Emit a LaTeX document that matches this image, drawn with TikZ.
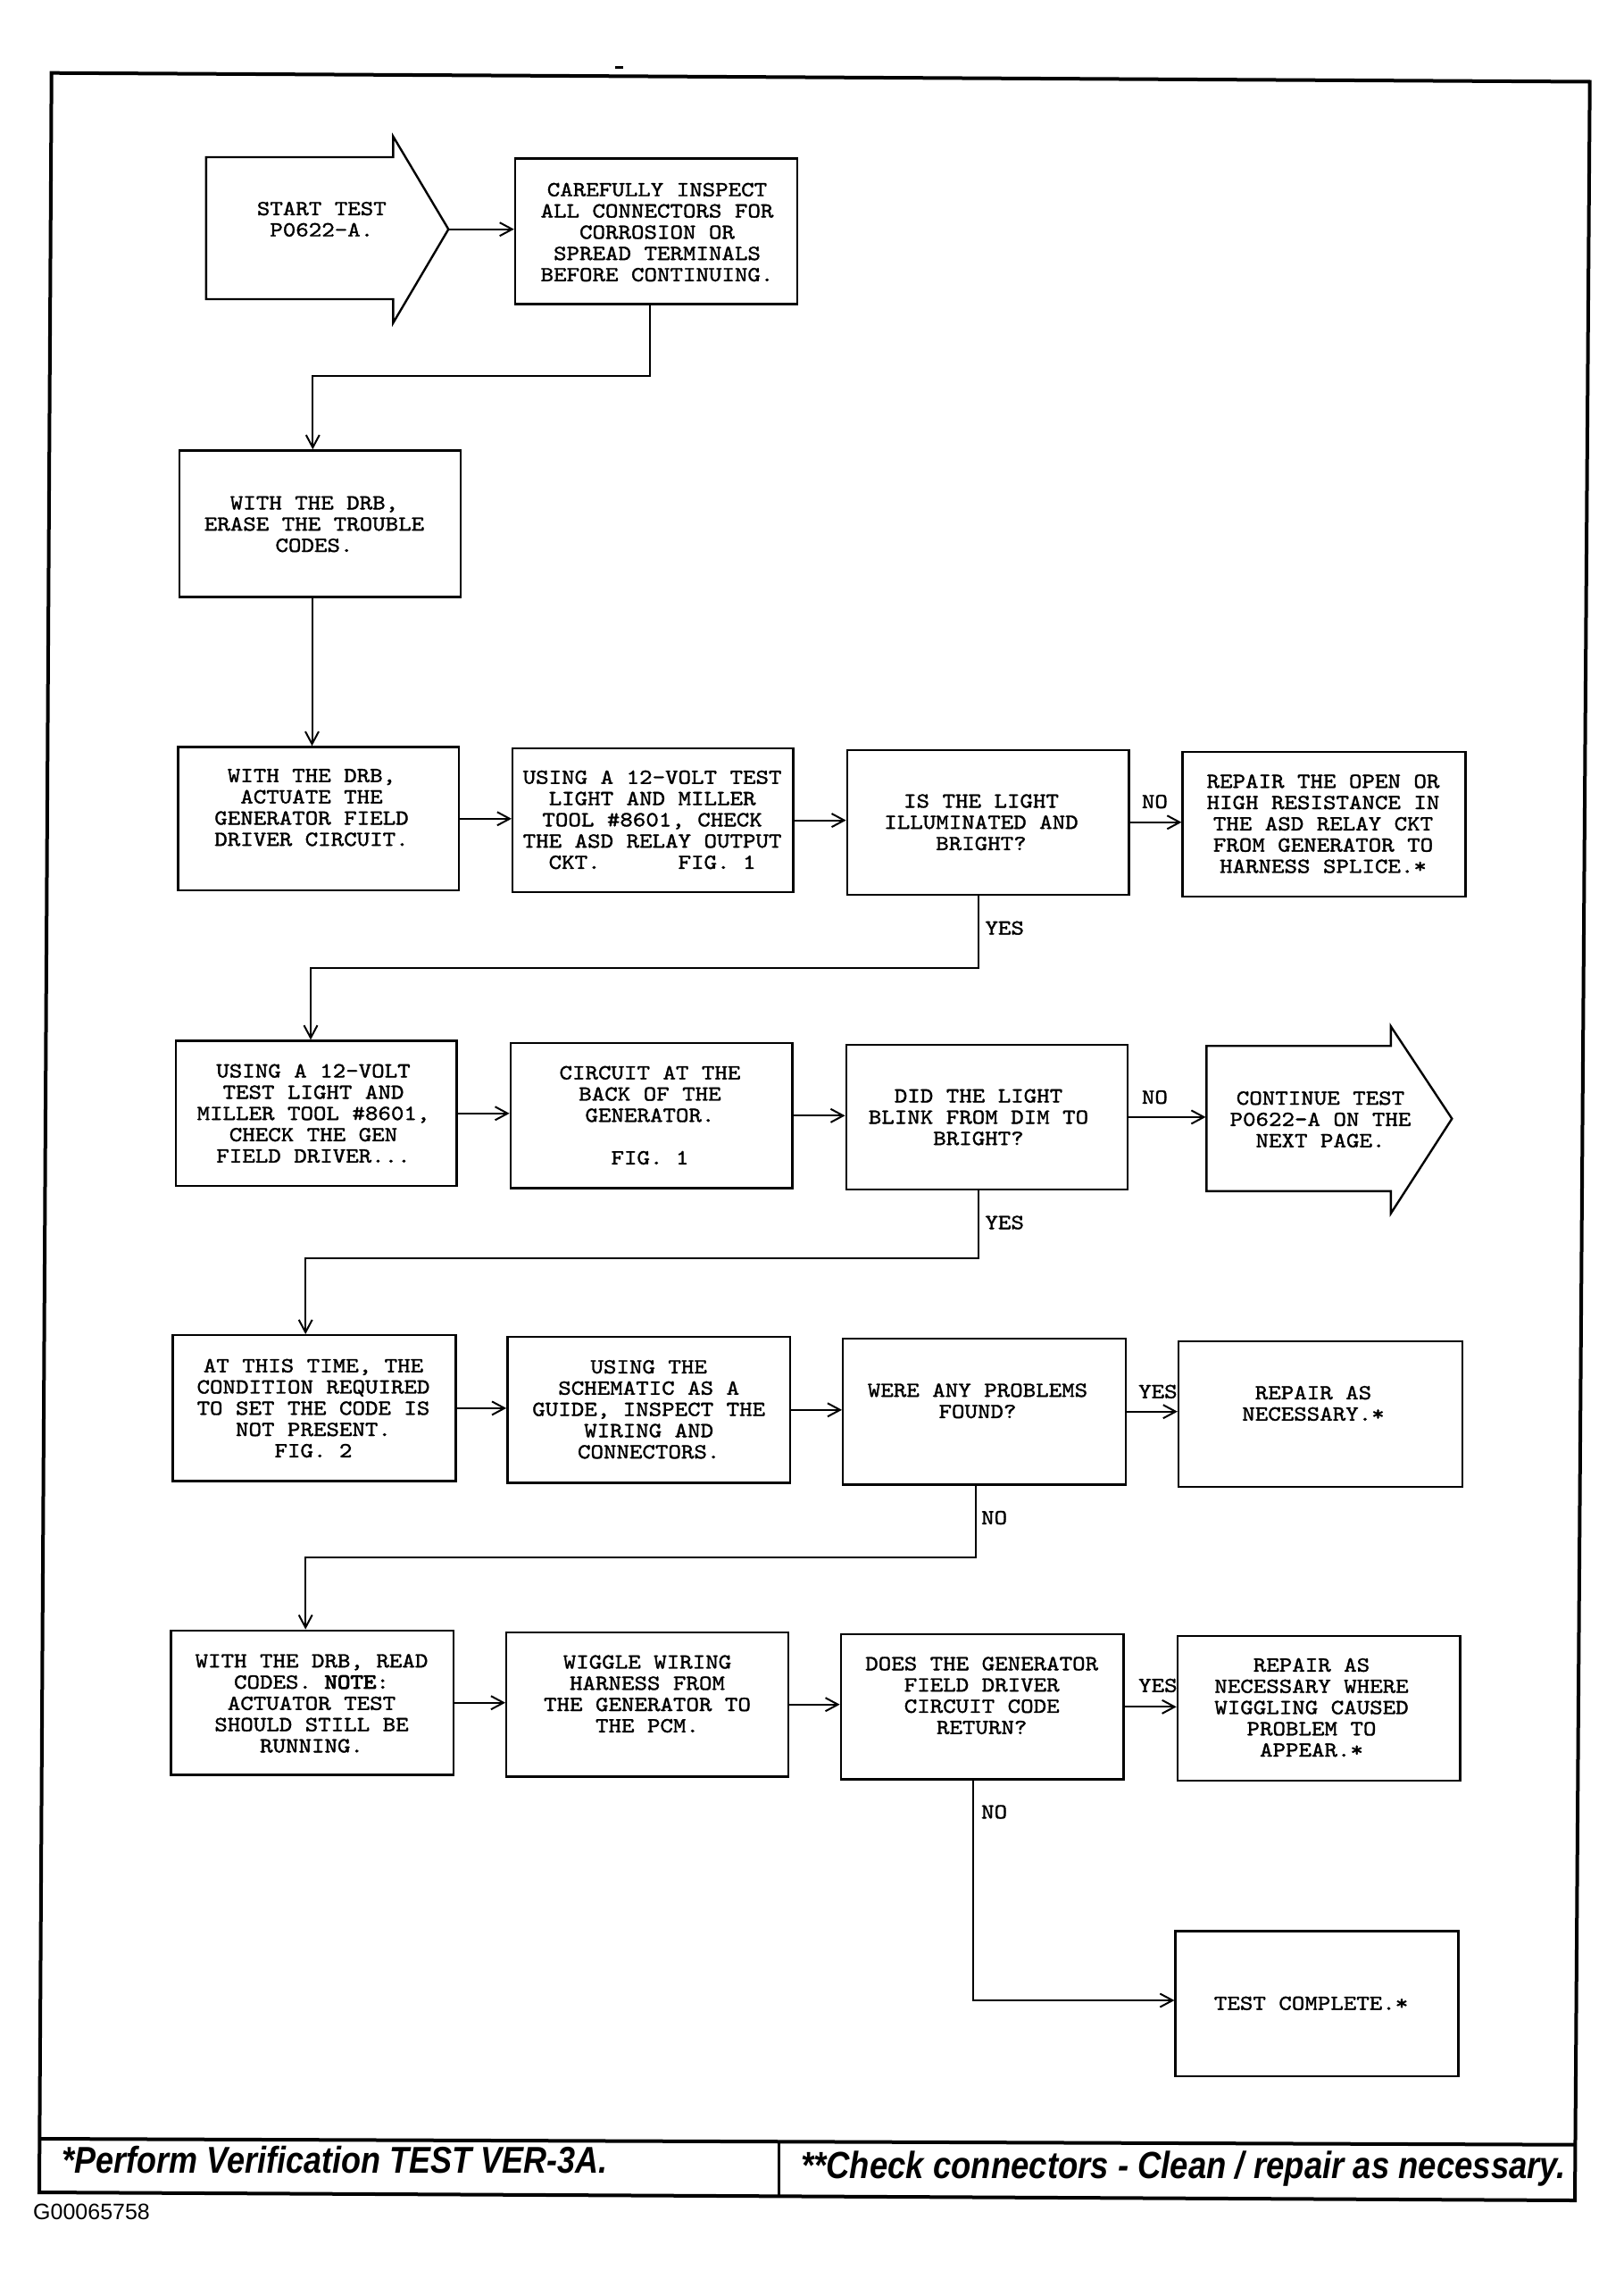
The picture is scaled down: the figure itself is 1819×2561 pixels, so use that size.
\documentclass[tikz,border=0pt]{standalone}
\usepackage{fontspec}
\usetikzlibrary{arrows.meta}
\newfontfamily\boxfont{lmmono10-regular.otf}[FakeStretch=1.15,FakeBold=1.4]
\newfontfamily\boxfontB{lmmono10-regular.otf}[FakeStretch=1.15,FakeBold=4]
\newfontfamily\footfont{Liberation Sans}
% box: name, cx, cy, width, height, text x, text y, text
\newcommand\mkbox[8]{%
  \node[box, minimum width=#4pt, minimum height=#5pt] (#1) at (#2,#3) {};
  \node[txt] (#1t) at (#6,#7) {#8};}
\begin{document}
\begin{tikzpicture}[x=1pt,y=-1pt,
  txt/.style={font=\boxfont\fontsize{24pt}{23.8pt}\selectfont\frenchspacing, align=center, inner sep=0pt},
  box/.style={draw, line width=2.4pt, inner sep=0pt},
  conn/.style={line width=2pt, -{Straight Barb[length=14pt,width=15pt,line width=2pt]}},
  shapeline/.style={line width=2.4pt, line join=miter},
  frame/.style={line width=4pt, line join=miter},
  lbl/.style={txt},
  foot/.style={anchor=base west, inner sep=0pt, font=\footfont\bfseries\itshape\fontsize{36pt}{40pt}\selectfont}
]
\useasboundingbox (0,0) rectangle (1819,2561);
\fill[white] (0,0) rectangle (1819,2561);

% outer frame and footer
\draw[frame] (57.7,81.7) -- (1780.7,91.5) -- (1764,2464) -- (44,2455) -- cycle;
\draw[frame] (44.3,2395) -- (1764.4,2401.7);
\draw[line width=2.5pt] (872.4,2397.5) -- (872.4,2459);
\draw[line width=3pt] (689,76) -- (698,76);

% start arrow
\draw[shapeline] (230.9,176) -- (440.3,176) -- (440.3,152.7) -- (502.3,256.7) -- (440.3,361.7) -- (440.3,335) -- (230.9,335) -- cycle;
\coordinate (starttip) at (502.3,256.7);
\node[txt] (starttext) at (360.3,245.5) {START TEST\\P0622-A.};

\mkbox{box1}{735}{259}{316}{163}{736}{260}
  {CAREFULLY INSPECT\\ALL CONNECTORS FOR\\CORROSION OR\\SPREAD TERMINALS\\BEFORE CONTINUING.}
\mkbox{erase}{358.5}{586.4}{315.5}{164}{352}{587}
  {WITH THE DRB,\\ERASE THE TROUBLE\\CODES.}

% row 3
\mkbox{r3a}{356.8}{916.8}{314.5}{160.7}{349}{904.3}
  {WITH THE DRB,\\ACTUATE THE\\GENERATOR FIELD\\DRIVER CIRCUIT.}
\mkbox{r3b}{731.4}{918.6}{314.4}{160.7}{730.6}{918}
  {USING A 12-VOLT TEST\\LIGHT AND MILLER\\TOOL \#8601, CHECK\\THE ASD RELAY OUTPUT\\CKT.~~~~~~FIG. 1}
\mkbox{r3c}{1106.6}{920.8}{315.5}{162}{1099}{920.8}
  {IS THE LIGHT\\ILLUMINATED AND\\BRIGHT?}
\mkbox{r3d}{1483}{923}{316.7}{162}{1482}{922.5}
  {REPAIR THE OPEN OR\\HIGH RESISTANCE IN\\THE ASD RELAY CKT\\FROM GENERATOR TO\\HARNESS SPLICE.*}

% row 4
\mkbox{r4a}{354.4}{1246.8}{314.4}{162.6}{351}{1246.8}
  {USING A 12-VOLT\\TEST LIGHT AND\\MILLER TOOL \#8601,\\CHECK THE GEN\\FIELD DRIVER...}
\mkbox{r4b}{729.6}{1249.3}{315.5}{162.2}{728}{1248.9}
  {CIRCUIT AT THE\\BACK OF THE\\GENERATOR.\\\mbox{}\\FIG. 1}
\mkbox{r4c}{1105.5}{1250.9}{315.5}{162.3}{1096}{1251}
  {DID THE LIGHT\\BLINK FROM DIM TO\\BRIGHT?}
\draw[shapeline] (1351.4,1171.2) -- (1557.9,1171.2) -- (1557.9,1149.4) -- (1626.3,1252.7) -- (1557.9,1358.7) -- (1557.9,1333.9) -- (1351.4,1333.9) -- cycle;
\coordinate (contl) at (1350.5,1252.7);
\node[txt] (conttext) at (1479,1253.5) {CONTINUE TEST\\P0622-A ON THE\\NEXT PAGE.};

% row 5
\mkbox{r5a}{352}{1576.9}{316.7}{163.4}{351}{1576.9}
  {AT THIS TIME, THE\\CONDITION REQUIRED\\TO SET THE CODE IS\\NOT PRESENT.\\FIG. 2}
\mkbox{r5b}{726.7}{1578.8}{316.7}{163.4}{726.7}{1578.2}
  {USING THE\\SCHEMATIC AS A\\GUIDE, INSPECT THE\\WIRING AND\\CONNECTORS.}
\mkbox{r5c}{1102.6}{1580.7}{316.7}{163.4}{1095}{1568.7}
  {WERE ANY PROBLEMS\\FOUND?}
\mkbox{r5d}{1479}{1583.4}{317.8}{163.4}{1471}{1571.5}
  {REPAIR AS\\NECESSARY.*}

% row 6
\mkbox{r6a}{349.7}{1906.7}{316.7}{161.9}{349}{1907.4}
  {WITH THE DRB, READ\\CODES. {\boxfontB NOTE}:\\ACTUATOR TEST\\SHOULD STILL BE\\RUNNING.}
\mkbox{r6b}{725}{1908.7}{315.5}{161.9}{725}{1896.8}
  {WIGGLE WIRING\\HARNESS FROM\\THE GENERATOR TO\\THE PCM.}
\mkbox{r6c}{1100.2}{1911.3}{316.7}{162.7}{1099.7}{1898.7}
  {DOES THE GENERATOR\\FIELD DRIVER\\CIRCUIT CODE\\RETURN?}
\mkbox{r6d}{1477.3}{1913}{316.7}{162.3}{1469}{1912.1}
  {REPAIR AS\\NECESSARY WHERE\\WIGGLING CAUSED\\PROBLEM TO\\APPEAR.*}

\mkbox{final}{1475}{2243.8}{316.7}{162.3}{1468.6}{2243.3}
  {TEST COMPLETE.*}

% labels
\node[lbl] (no1) at (1293.4,897.6) {NO};
\node[lbl] (yes1) at (1125.2,1039.2) {YES};
\node[lbl] (no2) at (1293.4,1228.6) {NO};
\node[lbl] (yes2) at (1125.2,1369) {YES};
\node[lbl] (yes3) at (1296.9,1558.3) {YES};
\node[lbl] (no3) at (1113.6,1699.5) {NO};
\node[lbl] (yes4) at (1296.9,1887.4) {YES};
\node[lbl] (no4) at (1113.6,2029) {NO};

% connectors
\draw[conn] (starttip) -- (starttip -| box1.west);
\draw[conn] ([xshift=-7.3pt]box1.south) -- ++(0,79.3) -| ([xshift=-8.2pt]erase.north);
\draw[conn] ([xshift=-9pt]erase.south) -- ([xshift=-9pt]erase.south |- r3a.north);

\draw[conn] (r3a.east) -- (r3a.east -| r3b.west);
\draw[conn] (r3b.east) -- (r3b.east -| r3c.west);
\draw[conn] (r3c.east) -- (r3c.east -| r3d.west);
\draw[conn] ([xshift=-10.4pt]r3c.south) -- ++(0,81) -| ([xshift=-6.4pt]r4a.north);

\draw[conn] (r4a.east) -- (r4a.east -| r4b.west);
\draw[conn] (r4b.east) -- (r4b.east -| r4c.west);
\draw[conn] (r4c.east) -- (r4c.east -| contl);
\draw[conn] ([xshift=-9.3pt]r4c.south) -- ++(0,76) -| ([xshift=-9.8pt]r5a.north);

\draw[conn] (r5a.east) -- (r5a.east -| r5b.west);
\draw[conn] (r5b.east) -- (r5b.east -| r5c.west);
\draw[conn] (r5c.east) -- (r5c.east -| r5d.west);
\draw[conn] ([xshift=-9.9pt]r5c.south) -- ++(0,80) -| ([xshift=-7.5pt]r6a.north);

\draw[conn] (r6a.east) -- (r6a.east -| r6b.west);
\draw[conn] (r6b.east) -- (r6b.east -| r6c.west);
\draw[conn] (r6c.east) -- (r6c.east -| r6d.west);
\draw[conn] ([xshift=-9.8pt]r6c.south) |- ([yshift=3.8pt]final.west);

% footer texts
\node[foot] (foot1) at (69.6,2433) {\scalebox{1}[1.16]{*Perform Verification TEST VER-3A.}};
\node[foot, font=\footfont\bfseries\itshape\fontsize{36.5pt}{40pt}\selectfont] (foot2) at (897,2439) {\scalebox{1}[1.16]{**Check connectors - Clean / repair as necessary.}};
\node[anchor=base west, inner sep=0pt, font=\footfont\fontsize{25pt}{28pt}\selectfont] (gid) at (37,2485) {G00065758};
\end{tikzpicture}
\end{document}
